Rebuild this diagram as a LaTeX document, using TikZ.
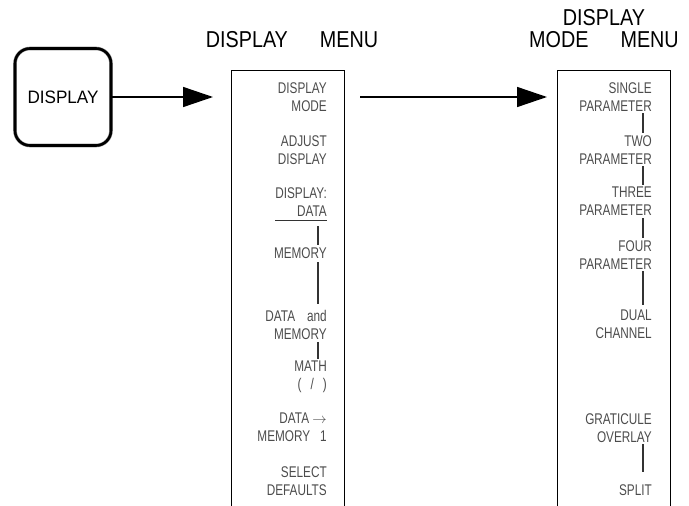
\documentclass[tikz,border=0pt]{standalone}
\usepackage{fontspec}
\setmainfont{Liberation Sans}
\newfontfamily\menufont[FakeStretch=0.76]{Liberation Sans}
\newfontfamily\titlefont[FakeStretch=0.86]{Liberation Sans}
\newfontfamily\keyfont[FakeStretch=0.95]{Liberation Sans}
\usetikzlibrary{arrows.meta}
\tikzset{
  softkey/.style={anchor=north east, inner sep=0pt, align=right, text=black!70,
    font=\menufont\fontsize{15.5}{18}\selectfont},
  menutitle/.style={inner sep=0pt, font=\titlefont\fontsize{23}{24}\selectfont},
  keylink/.style={line width=1.1pt, black!80, shorten <=2pt, shorten >=2pt},
  bigarrow/.style={line width=1.5pt, -{Triangle[length=30pt,width=20pt]}},
  panel/.style={line width=0.9pt}
}

\begin{document}
\begin{tikzpicture}[x=1pt,y=-1pt]
    \useasboundingbox (0,0) rectangle (689,506);
    % hard key
    \node (btn) at (63,97) [draw=black!45, double=black, double distance=2.6pt, line width=0.5pt,
      rounded corners=15pt, minimum width=96pt, minimum height=97pt, inner sep=0pt,
      font=\keyfont\fontsize{18}{20}\selectfont] {DISPLAY};
    % menu titles
    \node[menutitle] (dtitle) at (292,40) {DISPLAY\hspace{32pt}MENU};
    \node[menutitle] (mtitlea) at (604,18) {DISPLAY};
    \node[menutitle] (mtitleb) at (604,40) {MODE\hspace{32pt}MENU};
    % menu panels, open at the bottom
    \draw[panel] (231,506) |- (344,70) -- (344,506);
    \draw[panel] (557,506) |- (670,70) -- (670,506);
    % arrows
    \coordinate (tipa) at (213,97);
    \coordinate (tailb) at (360,97);
    \coordinate (tipb) at (547,97);
    \draw[bigarrow] (btn) -- (tipa);
    \draw[bigarrow] (tailb) -- (tipb);
    % display menu
    \node[softkey] (dmode) at (327,82) {DISPLAY\\MODE};
    \node[softkey] (adjust) at (327,135) {ADJUST\\DISPLAY};
    \node[softkey] (dsel) at (327,187) {DISPLAY:\\DATA};
    \node[softkey] (mem) at (327,247) {MEMORY};
    \node[softkey] (datamem) at (327,310) {DATA\hspace{12pt}and\\MEMORY};
    \node[softkey] (math) at (327,361) {MATH\\(\hspace{9pt}/\hspace{9pt})};
    \node[softkey] (dtom) at (327,413) {DATA $\rightarrow$\\MEMORY\hspace{10pt}1};
    \node[softkey] (defaults) at (327,466) {SELECT\\DEFAULTS};
    \draw[keylink, shorten <=0pt, shorten >=0pt] ([yshift=-4pt]dsel.south west) -- ([yshift=-4pt]dsel.south east);
    \draw[keylink, shorten <=10pt] ([xshift=-9pt]dsel.south east) -- ([xshift=-9pt]mem.north east);
    \draw[keylink, shorten <=4pt, shorten >=6pt] ([xshift=-9pt]mem.south east) -- ([xshift=-9pt]datamem.north east);
    \draw[keylink] ([xshift=-9pt]datamem.south east) -- ([xshift=-9pt]math.north east);
    % display mode menu
    \node[softkey] (single) at (652,82) {SINGLE\\PARAMETER};
    \node[softkey] (two) at (652,135) {TWO\\PARAMETER};
    \node[softkey] (three) at (652,187) {THREE\\PARAMETER};
    \node[softkey] (four) at (652,240) {FOUR\\PARAMETER};
    \node[softkey] (dual) at (652,310) {DUAL\\CHANNEL};
    \node[softkey] (overlay) at (652,413) {GRATICULE\\OVERLAY};
    \node[softkey] (split) at (652,484) {SPLIT};
    \draw[keylink] ([xshift=-9pt]single.south east) -- ([xshift=-9pt]two.north east);
    \draw[keylink] ([xshift=-9pt]two.south east) -- ([xshift=-9pt]three.north east);
    \draw[keylink] ([xshift=-9pt]three.south east) -- ([xshift=-9pt]four.north east);
    \draw[keylink, shorten >=5pt] ([xshift=-9pt]four.south east) -- ([xshift=-9pt]dual.north east);
    \draw[keylink, shorten >=12pt] ([xshift=-9pt]overlay.south east) -- ([xshift=-9pt]split.north east);
\end{tikzpicture}
\end{document}
